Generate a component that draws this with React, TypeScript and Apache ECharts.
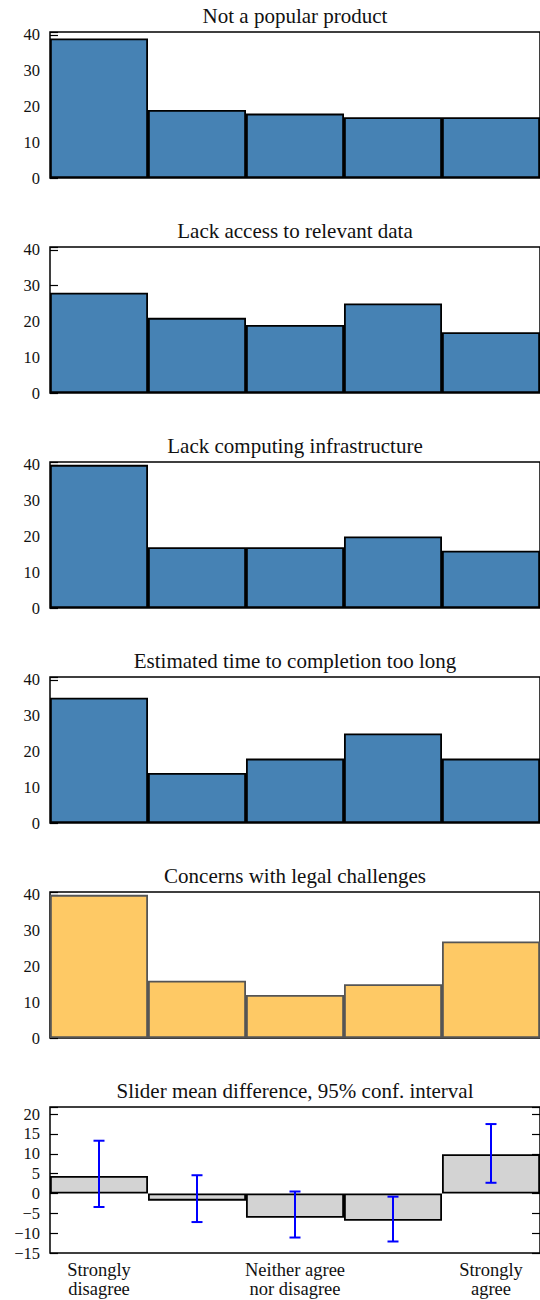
import React, { useEffect, useRef } from "react";
import * as echarts from "echarts";

const CATEGORIES = ["Strongly\ndisagree", "", "Neither agree\nnor disagree", "", "Strongly\nagree"];
const TITLES = [
  "Not a popular product",
  "Lack access to relevant data",
  "Lack computing infrastructure",
  "Estimated time to completion too long",
  "Concerns with legal challenges",
  "Slider mean difference, 95% conf. interval",
];
const NOT_POPULAR = [39, 19, 18, 17, 17];
const NO_DATA = [28, 21, 19, 25, 17];
const NO_INFRA = [40, 17, 17, 20, 16];
const TOO_LONG = [35, 14, 18, 25, 18];
const LEGAL = [40, 16, 12, 15, 27];
const SLIDER_MEAN = [4.4, -1.8, -6.1, -6.9, 9.9];
const CI_LOW = [-3.4, -7.2, -11.1, -12.1, 2.7];
const CI_HIGH = [13.3, 4.6, 0.5, -0.8, 17.5];
const HIST_TICKS = [0, 10, 20, 30, 40];
const DIFF_TICKS = [-15, -10, -5, 0, 5, 10, 15, 20];

const FONT = "Liberation Serif";

export default function App() {
  const ref = useRef<HTMLDivElement>(null);
  useEffect(() => {
    if (!ref.current) return;
    const chart = echarts.init(ref.current, undefined, { renderer: "svg" });
    const hists = [NOT_POPULAR, NO_DATA, NO_INFRA, TOO_LONG, LEGAL];
    const TOP0 = 32;
    const STEP = 215;
    const H = 146;
    const grids: any[] = [];
    const xAxes: any[] = [];
    const yAxes: any[] = [];
    const series: any[] = [];
    const titles: any[] = [];
    const tickFmt = (ticks: number[]) => (v: number) =>
      ticks.some((t) => Math.abs(t - v) < 1e-6) ? (v < 0 ? "\u2212" + Math.abs(v) : String(v)) : "";

    for (let i = 0; i < 6; i++) {
      grids.push({
        left: 50,
        right: 0,
        top: TOP0 + STEP * i,
        height: H,
        show: true,
        borderColor: "#000",
        borderWidth: 1.5,
        backgroundColor: "transparent",
      });
      titles.push({
        text: TITLES[i],
        left: 295,
        top: 5 + STEP * i,
        textAlign: "center",
        padding: 0,
        textStyle: { fontFamily: FONT, fontSize: 21, fontWeight: "normal", color: "#111", lineHeight: 22 },
      });
      const isLast = i === 5;
      xAxes.push({
        type: "category",
        gridIndex: i,
        data: CATEGORIES,
        boundaryGap: true,
        axisLine: { show: false },
        axisTick: { show: false },
        axisLabel: isLast
          ? { show: true, interval: 0, fontFamily: FONT, fontSize: 18.5, lineHeight: 19, color: "#111", margin: 7 }
          : { show: false },
      });
      const ticks = isLast ? DIFF_TICKS : HIST_TICKS;
      const yBase = {
        type: "value",
        gridIndex: i,
        min: isLast ? -15 : 0,
        max: isLast ? 21.8 : 40.8,
        interval: isLast ? 5 : 10,
        splitLine: { show: false },
        axisLine: { show: false },
        axisTick: { show: true, inside: true, length: 8, lineStyle: { color: "#000", width: 1.2 } },
      };
      yAxes.push({
        ...yBase,
        position: "left",
        axisLabel: { show: true, formatter: tickFmt(ticks), fontFamily: FONT, fontSize: 16.5, color: "#111", margin: 10 },
      });
      if (isLast) {
        yAxes.push({
          ...yBase,
          position: "right",
          axisLabel: { show: false },
        });
      }
      if (!isLast) {
        const orange = i === 4;
        series.push({
          type: "bar",
          xAxisIndex: i,
          yAxisIndex: i,
          data: hists[i],
          barCategoryGap: "0%",
          itemStyle: orange
            ? { color: "#fec965", borderColor: "#555", borderWidth: 1.8 }
            : { color: "#4682b4", borderColor: "#000", borderWidth: 1.8 },
        });
      } else {
        series.push({
          type: "bar",
          xAxisIndex: 5,
          yAxisIndex: 5,
          data: SLIDER_MEAN,
          barCategoryGap: "0%",
          itemStyle: { color: "#d3d3d3", borderColor: "#000", borderWidth: 1.8 },
        });
        series.push({
          type: "custom",
          xAxisIndex: 5,
          yAxisIndex: 5,
          z: 5,
          data: CI_LOW.map((lo, k) => [k, lo, CI_HIGH[k]]),
          encode: { x: 0, y: [1, 2] },
          renderItem: (params: any, api: any) => {
            const idx = api.value(0);
            const lo = api.coord([idx, api.value(1)]);
            const hi = api.coord([idx, api.value(2)]);
            const cap = 5.5;
            const style = { stroke: "#0000ff", lineWidth: 2 };
            return {
              type: "group",
              children: [
                { type: "line", shape: { x1: lo[0], y1: lo[1], x2: hi[0], y2: hi[1] }, style },
                { type: "line", shape: { x1: lo[0] - cap, y1: lo[1], x2: lo[0] + cap, y2: lo[1] }, style },
                { type: "line", shape: { x1: hi[0] - cap, y1: hi[1], x2: hi[0] + cap, y2: hi[1] }, style },
              ],
            };
          },
        });
      }
    }

    chart.setOption({
      animation: false,
      backgroundColor: "#fff",
      title: titles,
      grid: grids,
      xAxis: xAxes,
      yAxis: yAxes,
      series,
    });
    return () => chart.dispose();
  }, []);
  return <div ref={ref} style={{ position: "absolute", left: 0, top: 0, width: 540, height: 1300 }} />;
}
